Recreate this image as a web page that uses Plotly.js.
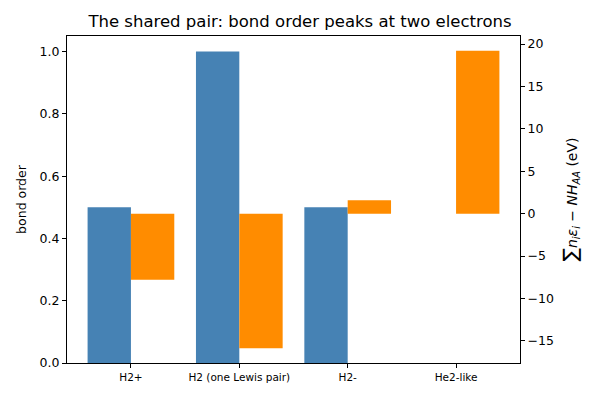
<!DOCTYPE html>
<html>
<head>
<meta charset="utf-8">
<script src="https://cdn.plot.ly/plotly-3.0.1.min.js"></script>
<style>
  html, body { margin: 0; padding: 0; background: #fff; }
  #plot { width: 600px; height: 400px; }
</style>
</head>
<body>
<div id="plot"></div>
<script>
const species = ["H2+", "H2 (one Lewis pair)", "H2-", "He2-like"];
const bondOrder = [0.5, 1.0, 0.5, 0.0];
const energyEv = [-7.8, -15.85, 1.6, 19.2];

const FONT = "DejaVu Sans, sans-serif";
const xPos = species.map((_, i) => i);

const traces = [
  {
    type: "bar",
    x: xPos,
    y: bondOrder,
    width: 0.4,
    offset: -0.4,
    marker: { color: "#4682b4", line: { width: 0 } },
    name: "bond order",
    hoverinfo: "skip",
    showlegend: false
  },
  {
    type: "bar",
    x: xPos,
    y: energyEv,
    width: 0.4,
    offset: 0,
    yaxis: "y2",
    marker: { color: "#ff8c00", line: { width: 0 } },
    name: "energy",
    hoverinfo: "skip",
    showlegend: false
  }
];

const layout = {
  width: 600,
  height: 400,
  margin: { l: 67, r: 80, t: 36, b: 37 },
  paper_bgcolor: "#fff",
  plot_bgcolor: "#fff",
  font: { family: FONT, color: "#000", size: 12 },
  title: {
    text: "The shared pair: bond order peaks at two electrons",
    font: { family: FONT, size: 16.5, color: "#000" },
    x: 0.5,
    xanchor: "center",
    y: 0.948,
    yanchor: "middle"
  },
  barmode: "overlay",
  xaxis: {
    range: [-0.59, 3.59],
    tickvals: xPos,
    ticktext: species,
    tickfont: { size: 10.5 },
    ticks: "outside",
    ticklen: 4,
    tickcolor: "#000",
    showgrid: false,
    zeroline: false,
    showline: true,
    linecolor: "#000",
    linewidth: 1,
    mirror: true
  },
  yaxis: {
    range: [0, 1.05],
    tickvals: [0, 0.2, 0.4, 0.6, 0.8, 1.0],
    ticktext: ["0.0", "0.2", "0.4", "0.6", "0.8", "1.0"],
    tickfont: { size: 12.5 },
    ticks: "outside",
    ticklen: 4,
    tickcolor: "#000",
    showgrid: false,
    zeroline: false,
    showline: true,
    linecolor: "#000",
    linewidth: 1,
    title: { text: "bond order", font: { size: 12.5 }, standoff: 10 }
  },
  yaxis2: {
    overlaying: "y",
    side: "right",
    range: [-17.6, 20.95],
    tickvals: [-15, -10, -5, 0, 5, 10, 15, 20],
    ticktext: ["\u221215", "\u221210", "\u22125", "0", "5", "10", "15", "20"],
    tickfont: { size: 12.5 },
    ticks: "outside",
    ticklen: 4,
    tickcolor: "#000",
    showgrid: false,
    zeroline: false,
    showline: true,
    linecolor: "#000",
    linewidth: 1,
    title: {
      text: "<span style=\"font-size:20px\">\u2211</span><i>n<sub>i</sub>\u03b5<sub>i</sub></i> \u2212 <i>NH<sub>AA</sub></i> (eV)",
      font: { size: 14 },
      standoff: 14
    }
  }
};

Plotly.newPlot("plot", traces, layout, { displayModeBar: false, staticPlot: true });
</script>
</body>
</html>
